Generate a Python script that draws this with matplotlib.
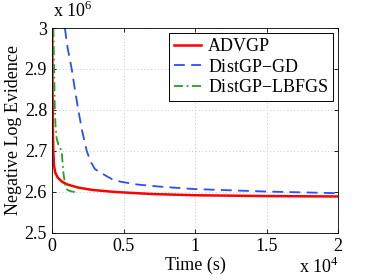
import numpy as np
import matplotlib
matplotlib.use('Agg')
from matplotlib import pyplot
from matplotlib.ticker import FuncFormatter

pyplot.rcParams['font.family'] = ['Liberation Serif', 'DejaVu Serif']
pyplot.rcParams['mathtext.fontset'] = 'custom'
pyplot.rcParams['mathtext.rm'] = 'Liberation Serif'

# time in units of 1e4 s, evidence in units of 1e6
advgp_t = [0.002, 0.004, 0.006, 0.009, 0.014, 0.022, 0.04, 0.07, 0.11, 0.18, 0.28, 0.44, 0.7, 1.0, 1.5, 2.0]
advgp_y = [3.0, 2.85, 2.76, 2.70, 2.665, 2.648, 2.635, 2.625, 2.618, 2.611, 2.605, 2.600, 2.595, 2.592, 2.590, 2.589]

gd_t = [0.09, 0.11, 0.138, 0.16, 0.184, 0.21, 0.243, 0.27, 0.30, 0.33, 0.36, 0.42, 0.48, 0.6, 0.755, 1.0, 1.5, 2.0]
gd_y = [3.0, 2.95, 2.9, 2.85, 2.8, 2.75, 2.7, 2.674, 2.656, 2.649, 2.643, 2.631, 2.625, 2.618, 2.613, 2.607, 2.601, 2.597]

lbfgs_t = [0.01, 0.015, 0.02, 0.025, 0.033, 0.045, 0.06, 0.07, 0.08, 0.09, 0.10, 0.12, 0.14, 0.17]
lbfgs_y = [3.0, 2.9, 2.8, 2.76, 2.73, 2.715, 2.705, 2.69, 2.646, 2.622, 2.607, 2.603, 2.601, 2.600]

fig = pyplot.figure(figsize=(3.74, 2.8), dpi=100)
ax = fig.add_axes([0.139, 0.168, 0.765, 0.732])

ax.plot(advgp_t, advgp_y, color='#ff0000', linestyle='-', linewidth=1.8, label='ADVGP')
ax.plot(gd_t, gd_y, color='#2a4dff', linestyle=(0, (6, 3.5)), linewidth=1.3, label='DistGP$-$GD')
ax.plot(lbfgs_t, lbfgs_y, color='#1fa51f', linestyle=(0, (5, 2, 1, 2)), linewidth=1.3, label='DistGP$-$LBFGS')

ax.set_xlim(0, 2)
ax.set_ylim(2.5, 3)
ax.set_xticks([0, 0.5, 1, 1.5, 2])
ax.set_yticks([2.5, 2.6, 2.7, 2.8, 2.9, 3.0])
fmt = FuncFormatter(lambda v, p: '%g' % round(v, 3))
ax.xaxis.set_major_formatter(fmt)
ax.yaxis.set_major_formatter(fmt)
ax.tick_params(direction='in', top=True, right=True, labelsize=13, length=3, width=0.6)
ax.grid(True, linestyle=(0, (1, 2.5)), color='#c8c8c8', linewidth=0.7)
for s in ax.spines.values():
    s.set_linewidth(0.6)

ax.set_xlabel('Time (s)', fontsize=13, labelpad=1)
ax.set_ylabel('Negative Log Evidence', fontsize=13, labelpad=2)
fig.text(0.142, 0.925, r'x $10^{6}$', fontsize=13, ha='left', va='bottom')
fig.text(0.80, 0.01, r'x $10^{4}$', fontsize=13, ha='left', va='bottom')

leg = ax.legend(loc='upper right', fontsize=13, fancybox=False, framealpha=1,
                edgecolor='black', borderpad=0.25, labelspacing=0.2,
                handlelength=1.5, handletextpad=0.4, borderaxespad=0.3)
leg.get_frame().set_linewidth(0.7)

fig.savefig('out.png', dpi=100)
